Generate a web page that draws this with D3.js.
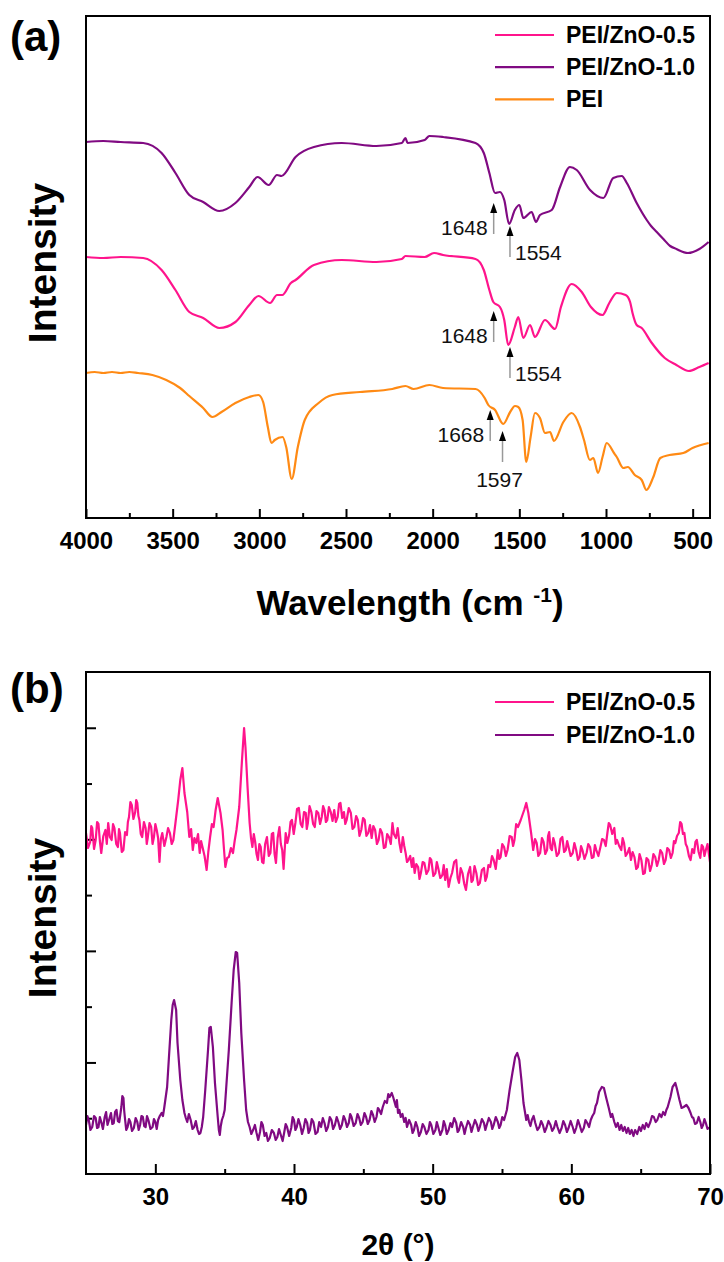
<!DOCTYPE html>
<html lang="en">
<head>
  <title>PEI / PEI-ZnO : FTIR and XRD</title>
  <meta charset="utf-8">
  <script src="https://d3js.org/d3.v7.min.js"></script>
  <style>
    body { margin: 0; background: #fff; }
    text { font-family: "Liberation Sans", Arial, sans-serif; }
    .frame { fill: none; stroke: #000; stroke-width: 2; }
    .curve { fill: none; stroke-width: 2.2; stroke-linejoin: round; }
  </style>
</head>
<body>
<svg width="724" height="1262"></svg>
<script>
// ---- (a) FTIR : wavenumber (cm-1) / intensity (a.u.) ----
var pei10Wn  = [4000,3900,3800,3670,3564,3484,3404,3324,3231,3138,3058,3010,2946,2898,2872,2791,2685,2525,2325,2178,2157,2145,2046,2019,1940,1753,1705,1673,1640,1612,1587,1559,1526,1500,1477,1429,1404,1381,1313,1265,1208,1169,1092,1015,958,909,880,823,765,740,707,669,630,594,527,461,408];
var pei10Int = [376,377,376,375,365,345,323,316,307,315,331,341,333,343,342,361,371,375,372,375,380,375,378,382,381,375,365,345,325,326,318,294,308,313,300,306,296,303,308,331,351,348,328,320,340,342,335,315,298,292,286,279,272,269,265,269,276];

var pei05Wn  = [4000,3900,3800,3670,3564,3484,3404,3324,3231,3138,3058,3005,2938,2898,2868,2818,2791,2685,2525,2325,2178,2157,2046,1992,1940,1753,1705,1673,1650,1612,1587,1564,1526,1506,1477,1438,1410,1352,1294,1260,1198,1140,1087,1020,981,938,887,861,847,823,794,740,661,594,522,461,408];
var pei05Int = [261,260,261,260,248,228,206,200,190,196,213,222,215,223,223,235,238,253,258,256,259,262,261,265,263,259,248,228,216,211,198,173,191,201,180,193,181,198,189,211,234,226,211,203,215,225,223,216,205,193,190,176,160,153,147,151,155];

var peiWn  = [4000,3950,3900,3850,3800,3750,3700,3617,3537,3457,3404,3324,3271,3218,3138,3058,3005,2978,2951,2930,2911,2866,2845,2813,2778,2738,2658,2578,2419,2233,2157,2110,2019,1940,1753,1700,1679,1640,1593,1553,1525,1506,1481,1460,1435,1410,1381,1352,1323,1300,1246,1198,1150,1127,1093,1073,1046,1020,996,954,938,900,874,834,794,767,727,687,634,554,501,408];
var peiInt = [145,146,145,146,145,146,145,143,138,130,122,110,101,106,115,121,123,116,91,75,78,81,71,39,71,98,115,123,126,129,132,129,133,130,129,120,113,108,94,106,112,111,98,56,81,105,100,85,86,77,96,105,91,78,58,60,45,61,75,65,61,50,51,43,38,28,41,60,63,65,70,75];

var ftirTicks = [4000,3500,3000,2500,2000,1500,1000,500];
var ftirMinor = [3750,3250,2750,2250,1750,1250,750];

// marked bands: wavenumber, intensity at the arrow tip, label side
var markWn   = [1648,1554,1648,1554,1668,1597];
var markTip  = [315,292,207,171,108,87];
var markSide = ["left","right","left","right","left","below"];

// ---- (b) XRD : [2theta (deg), intensity (a.u.)] ----
var xrd05 = [[25.0,341],[25.15,326],[25.3,332],[25.38,348],[25.45,346],[25.58,325],[25.7,334],[25.8,352],[25.9,350],[26.0,333],[26.1,321],[26.25,338],[26.4,344],[26.5,330],[26.6,351],[26.72,337],[26.85,334],[26.95,350],[27.05,346],[27.18,330],[27.3,327],[27.38,345],[27.45,341],[27.58,322],[27.7,324],[27.82,342],[27.95,339],[28.02,352],[28.1,357],[28.2,372],[28.3,369],[28.42,355],[28.55,362],[28.62,374],[28.7,371],[28.78,358],[28.85,354],[28.95,340],[29.05,337],[29.18,352],[29.3,346],[29.38,330],[29.45,336],[29.58,351],[29.7,347],[29.8,330],[29.9,337],[30.0,350],[30.1,344],[30.2,336],[30.3,312],[30.4,335],[30.5,341],[30.65,328],[30.8,337],[30.92,346],[31.05,341],[31.18,330],[31.3,334],[31.45,351],[31.65,374],[31.8,394],[31.95,406],[32.1,381],[32.3,362],[32.45,337],[32.58,345],[32.7,324],[32.82,336],[32.95,331],[33.08,340],[33.2,321],[33.3,333],[33.4,327],[33.55,318],[33.7,304],[33.82,322],[33.95,337],[34.08,350],[34.2,347],[34.35,364],[34.5,376],[34.7,361],[34.85,344],[34.95,325],[35.05,307],[35.18,316],[35.3,317],[35.45,326],[35.6,321],[35.72,333],[35.85,344],[36.05,367],[36.25,414],[36.4,446],[36.5,427],[36.65,387],[36.8,351],[36.9,336],[37.0,327],[37.1,340],[37.2,332],[37.3,320],[37.4,314],[37.5,330],[37.6,327],[37.7,312],[37.8,311],[37.92,330],[38.05,337],[38.18,318],[38.3,321],[38.4,340],[38.5,341],[38.6,320],[38.7,311],[38.82,336],[38.95,347],[39.05,330],[39.15,324],[39.25,305],[39.4,341],[39.52,331],[39.65,339],[39.75,352],[39.85,354],[39.98,340],[40.1,351],[40.22,365],[40.35,366],[40.48,350],[40.6,347],[40.72,362],[40.85,361],[40.92,345],[41.0,351],[41.12,368],[41.25,362],[41.38,350],[41.5,347],[41.62,363],[41.75,361],[41.88,350],[42.0,357],[42.1,368],[42.2,364],[42.3,352],[42.4,354],[42.52,367],[42.65,362],[42.78,353],[42.9,364],[43.02,352],[43.15,357],[43.25,370],[43.35,371],[43.48,356],[43.6,362],[43.7,350],[43.8,354],[43.95,366],[44.1,361],[44.22,345],[44.35,347],[44.48,358],[44.6,354],[44.72,338],[44.85,344],[44.98,356],[45.1,354],[45.22,338],[45.35,341],[45.48,349],[45.6,336],[45.72,348],[45.85,344],[45.98,330],[46.1,334],[46.22,345],[46.35,341],[46.48,326],[46.6,327],[46.72,340],[46.85,337],[46.98,330],[47.1,351],[47.2,340],[47.35,336],[47.48,346],[47.6,331],[47.72,322],[47.85,337],[47.95,328],[48.05,321],[48.15,312],[48.25,314],[48.38,318],[48.5,307],[48.6,316],[48.7,301],[48.82,310],[48.95,307],[49.05,295],[49.15,301],[49.28,312],[49.4,311],[49.55,300],[49.7,304],[49.8,316],[49.9,314],[50.05,298],[50.2,301],[50.3,312],[50.4,306],[50.55,296],[50.7,299],[50.8,309],[50.9,294],[51.02,305],[51.15,287],[51.28,296],[51.4,301],[51.55,312],[51.7,314],[51.8,296],[51.9,291],[52.02,306],[52.15,301],[52.28,290],[52.4,284],[52.55,300],[52.7,307],[52.8,292],[52.9,294],[53.02,308],[53.15,301],[53.28,289],[53.4,291],[53.55,304],[53.7,306],[53.8,293],[53.9,297],[54.02,309],[54.15,307],[54.28,318],[54.4,314],[54.55,305],[54.7,324],[54.8,315],[54.9,317],[55.02,330],[55.15,327],[55.28,318],[55.4,324],[55.55,338],[55.7,337],[55.8,328],[55.9,334],[56.02,350],[56.15,347],[56.35,354],[56.6,364],[56.75,371],[56.9,361],[57.1,341],[57.25,324],[57.38,335],[57.5,331],[57.62,318],[57.75,321],[57.88,336],[58.0,332],[58.12,320],[58.25,324],[58.32,338],[58.4,342],[58.5,326],[58.6,324],[58.7,336],[58.8,331],[58.95,318],[59.1,321],[59.22,335],[59.35,337],[59.48,322],[59.6,324],[59.7,333],[59.8,327],[59.95,318],[60.1,321],[60.22,331],[60.35,324],[60.48,314],[60.6,317],[60.7,328],[60.8,324],[60.95,315],[61.1,321],[61.22,330],[61.35,327],[61.48,316],[61.6,317],[61.7,329],[61.8,324],[61.95,318],[62.1,327],[62.22,335],[62.35,334],[62.48,328],[62.6,341],[62.7,351],[62.8,349],[62.95,340],[63.1,346],[63.2,330],[63.3,334],[63.45,328],[63.6,324],[63.7,336],[63.8,331],[63.92,318],[64.05,321],[64.18,326],[64.3,314],[64.42,322],[64.55,317],[64.68,305],[64.8,307],[64.92,320],[65.05,314],[65.18,300],[65.3,301],[65.42,316],[65.55,314],[65.68,303],[65.8,309],[65.92,320],[66.05,317],[66.18,308],[66.3,314],[66.42,324],[66.55,321],[66.68,310],[66.8,314],[66.92,326],[67.05,324],[67.18,316],[67.3,321],[67.4,333],[67.5,331],[67.62,338],[67.75,341],[67.85,352],[67.95,350],[68.05,340],[68.15,341],[68.25,330],[68.35,327],[68.48,318],[68.6,314],[68.72,325],[68.85,321],[68.95,332],[69.05,334],[69.18,322],[69.3,316],[69.4,329],[69.5,327],[69.6,318],[69.7,324],[69.82,330],[70.0,312]];

var xrd10 = [[25.0,49],[25.1,58],[25.2,54],[25.32,44],[25.45,47],[25.58,58],[25.7,56],[25.8,46],[25.9,47],[26.0,57],[26.1,52],[26.22,45],[26.35,57],[26.45,62],[26.55,49],[26.68,55],[26.8,61],[26.9,50],[27.0,51],[27.1,62],[27.2,64],[27.3,53],[27.4,52],[27.48,60],[27.55,67],[27.62,78],[27.7,76],[27.75,64],[27.8,57],[27.9,44],[28.0,47],[28.1,55],[28.2,52],[28.32,43],[28.45,46],[28.58,56],[28.7,52],[28.8,44],[28.9,49],[29.0,58],[29.1,57],[29.2,48],[29.3,47],[29.4,58],[29.5,54],[29.65,45],[29.8,47],[29.9,55],[30.0,52],[30.1,45],[30.2,54],[30.32,58],[30.45,61],[30.55,58],[30.65,67],[30.85,87],[31.0,121],[31.15,154],[31.25,169],[31.35,174],[31.5,164],[31.6,131],[31.8,94],[31.95,74],[32.1,61],[32.2,56],[32.3,52],[32.42,60],[32.55,54],[32.68,45],[32.8,47],[32.92,53],[33.05,44],[33.15,40],[33.25,41],[33.35,47],[33.45,57],[33.6,84],[33.8,124],[33.9,146],[34.0,147],[34.15,127],[34.3,91],[34.5,57],[34.58,44],[34.65,39],[34.72,48],[34.8,54],[34.9,58],[35.0,64],[35.1,84],[35.3,124],[35.5,171],[35.65,204],[35.8,222],[35.9,221],[36.05,191],[36.2,141],[36.4,94],[36.55,64],[36.68,52],[36.8,47],[36.92,40],[37.05,44],[37.18,49],[37.3,41],[37.42,34],[37.55,42],[37.65,52],[37.75,49],[37.88,38],[38.0,41],[38.12,33],[38.25,36],[38.4,44],[38.55,41],[38.68,34],[38.8,37],[38.92,45],[39.05,39],[39.18,33],[39.3,42],[39.4,50],[39.5,47],[39.65,38],[39.8,46],[39.9,57],[40.0,54],[40.1,44],[40.2,47],[40.32,55],[40.45,49],[40.58,40],[40.7,46],[40.82,55],[40.95,51],[41.05,41],[41.15,44],[41.28,55],[41.4,52],[41.55,40],[41.7,42],[41.82,52],[41.95,47],[42.08,56],[42.2,51],[42.32,43],[42.45,47],[42.58,57],[42.7,54],[42.82,45],[42.95,49],[43.08,57],[43.2,52],[43.32,45],[43.45,49],[43.58,58],[43.7,54],[43.82,47],[43.95,51],[44.05,60],[44.15,57],[44.3,48],[44.45,51],[44.58,60],[44.7,56],[44.82,49],[44.95,52],[45.08,61],[45.2,57],[45.32,50],[45.45,54],[45.58,63],[45.7,59],[45.82,52],[45.95,57],[46.05,66],[46.15,64],[46.28,60],[46.4,67],[46.55,73],[46.7,71],[46.8,80],[46.9,77],[47.05,81],[47.15,77],[47.25,72],[47.35,67],[47.42,74],[47.5,61],[47.6,64],[47.7,57],[47.82,60],[47.95,52],[48.05,56],[48.15,47],[48.3,54],[48.45,49],[48.55,41],[48.65,44],[48.78,52],[48.9,47],[49.02,38],[49.15,42],[49.28,50],[49.4,47],[49.55,40],[49.7,44],[49.8,52],[49.9,49],[50.05,40],[50.2,44],[50.3,52],[50.4,47],[50.55,39],[50.7,44],[50.8,53],[50.9,49],[51.02,40],[51.15,44],[51.28,51],[51.4,47],[51.55,56],[51.7,51],[51.8,42],[51.9,44],[52.05,52],[52.2,47],[52.3,40],[52.4,46],[52.55,53],[52.7,49],[52.8,42],[52.9,47],[53.05,54],[53.2,49],[53.3,43],[53.4,47],[53.55,55],[53.7,51],[53.8,44],[53.9,49],[54.05,56],[54.2,52],[54.3,45],[54.4,49],[54.55,57],[54.7,52],[54.8,46],[54.9,49],[55.02,57],[55.15,54],[55.35,64],[55.55,84],[55.75,101],[55.95,117],[56.1,121],[56.25,114],[56.4,94],[56.55,71],[56.75,54],[56.85,59],[56.95,52],[57.05,48],[57.15,54],[57.28,58],[57.4,51],[57.55,44],[57.7,47],[57.82,53],[57.95,49],[58.08,42],[58.2,46],[58.35,53],[58.5,49],[58.62,43],[58.75,46],[58.88,53],[59.0,47],[59.15,41],[59.3,46],[59.42,53],[59.55,49],[59.68,42],[59.8,46],[59.95,53],[60.1,47],[60.22,41],[60.35,46],[60.48,54],[60.6,49],[60.75,42],[60.9,46],[61.02,54],[61.15,51],[61.28,47],[61.4,54],[61.52,58],[61.65,61],[61.75,68],[61.85,71],[62.0,82],[62.2,87],[62.35,86],[62.5,77],[62.7,66],[62.85,57],[62.95,60],[63.1,52],[63.22,47],[63.35,51],[63.48,44],[63.6,49],[63.72,43],[63.85,47],[63.98,41],[64.1,46],[64.22,40],[64.35,44],[64.48,38],[64.6,44],[64.75,40],[64.9,47],[65.02,43],[65.15,49],[65.28,45],[65.4,51],[65.55,47],[65.7,52],[65.82,58],[65.95,57],[66.08,52],[66.2,54],[66.35,60],[66.5,57],[66.62,62],[66.75,59],[66.85,64],[66.95,67],[67.15,77],[67.3,87],[67.5,91],[67.6,86],[67.8,74],[67.95,66],[68.1,67],[68.3,69],[68.45,66],[68.6,61],[68.7,57],[68.8,56],[68.92,50],[69.05,51],[69.18,57],[69.3,52],[69.4,46],[69.5,49],[69.6,55],[69.7,51],[69.82,45],[70.0,47]];

var xrdTicks = [30,40,50,60,70];
var xrdMinor = [35,45,55,65];

var ftirNames  = ["PEI/ZnO-0.5","PEI/ZnO-1.0","PEI"];
var ftirColors = ["#ff148c","#800a82","#ff8a14"];
var xrdNames   = ["PEI/ZnO-0.5","PEI/ZnO-1.0"];
var xrdColors  = ["#ff148c","#800a82"];

var svg = d3.select("svg"),
    W = 624, H = 502;

function styleAxis(sel) {
  sel.select(".domain").remove();
  sel.selectAll(".tick line").attr("stroke", "#000").attr("stroke-width", 2);
  sel.selectAll(".tick text")
     .attr("fill", "#000")
     .style("font-family", "'Liberation Sans', Arial, sans-serif")
     .style("font-size", "24px")
     .style("font-weight", "bold");
}

function legend(g, names, colors, y0, dy) {
  names.forEach(function(n, i) {
    var y = y0 + i * dy;
    g.append("line").attr("x1", 409).attr("x2", 468).attr("y1", y).attr("y2", y)
     .attr("stroke", colors[i]).attr("stroke-width", 2.2);
    g.append("text").attr("x", 480).attr("y", y + 8)
     .style("font-size", "23px").style("font-weight", "bold").text(n);
  });
}

// ================= panel (a) =================
var gA = svg.append("g").attr("transform", "translate(86,16)");
var xA = d3.scaleLinear().domain([4000, 400]).range([0, W]),
    yA = d3.scaleLinear().domain([0, 502]).range([H, 0]);

gA.append("g").attr("transform", "translate(0," + H + ")")
  .call(d3.axisBottom(xA).tickValues(ftirTicks).tickSizeInner(-9).tickSizeOuter(0)
        .tickPadding(14).tickFormat(d3.format("d")))
  .call(styleAxis);
gA.append("g").attr("transform", "translate(0," + H + ")")
  .call(d3.axisBottom(xA).tickValues(ftirMinor).tickSizeInner(-5).tickSizeOuter(0).tickFormat(""))
  .call(styleAxis);

var lineA = d3.line().curve(d3.curveMonotoneX)
  .x(function(d) { return xA(d[0]); })
  .y(function(d) { return yA(d[1]); });

[[pei05Wn, pei05Int, 0], [pei10Wn, pei10Int, 1], [peiWn, peiInt, 2]].forEach(function(s) {
  gA.append("path").datum(d3.zip(s[0], s[1])).attr("class", "curve")
    .attr("stroke", ftirColors[s[2]]).attr("d", lineA);
});

// band markers
markWn.forEach(function(wn, i) {
  var x = xA(wn), tip = yA(markTip[i]), tail = tip + 31;
  gA.append("line").attr("x1", x).attr("x2", x).attr("y1", tip + 8).attr("y2", tail)
    .attr("stroke", "#999").attr("stroke-width", 1.5);
  gA.append("path").attr("d", "M" + x + "," + tip + "L" + (x - 3.5) + "," + (tip + 10) + "L" + (x + 3.5) + "," + (tip + 10) + "Z")
    .attr("fill", "#000");
  var t = gA.append("text").style("font-size", "21px").attr("fill", "#111").text(wn);
  if (markSide[i] === "left") t.attr("x", x - 6).attr("y", tail + 1).attr("text-anchor", "end");
  else if (markSide[i] === "right") t.attr("x", x + 5).attr("y", tail + 3).attr("text-anchor", "start");
  else t.attr("x", x - 3).attr("y", tail + 25).attr("text-anchor", "middle");
});

gA.append("rect").attr("class", "frame").attr("width", W).attr("height", H);
legend(gA, ftirNames, ftirColors, 19, 32.2);

svg.append("text").attr("x", 10).attr("y", 51)
  .style("font-size", "42px").style("font-weight", "bold").text("(a)");
svg.append("text").attr("transform", "translate(56,263) rotate(-90)").attr("text-anchor", "middle")
  .style("font-size", "39px").style("font-weight", "bold").text("Intensity");
var tA = svg.append("text").attr("x", 410).attr("y", 615).attr("text-anchor", "middle")
  .style("font-size", "35px").style("font-weight", "bold");
tA.append("tspan").text("Wavelength (cm ");
tA.append("tspan").attr("dy", -13).style("font-size", "21px").text("-1");
tA.append("tspan").attr("dy", 13).text(")");

// ================= panel (b) =================
var gB = svg.append("g").attr("transform", "translate(86,672)");
var xB = d3.scaleLinear().domain([25, 70]).range([0, W]),
    yB = d3.scaleLinear().domain([0, 502]).range([H, 0]);

gB.append("g").attr("transform", "translate(0," + H + ")")
  .call(d3.axisBottom(xB).tickValues(xrdTicks).tickSizeInner(-10).tickSizeOuter(0).tickPadding(14))
  .call(styleAxis);
gB.append("g").attr("transform", "translate(0," + H + ")")
  .call(d3.axisBottom(xB).tickValues(xrdMinor).tickSizeInner(-5).tickSizeOuter(0).tickFormat(""))
  .call(styleAxis);
gB.append("g")
  .call(d3.axisLeft(yB).tickValues([2, 4, 6, 8].map(function(k) { return k * 55.78; }))
        .tickSizeInner(-10).tickSizeOuter(0).tickFormat(""))
  .call(styleAxis);
gB.append("g")
  .call(d3.axisLeft(yB).tickValues([1, 3, 5, 7].map(function(k) { return k * 55.78; }))
        .tickSizeInner(-6).tickSizeOuter(0).tickFormat(""))
  .call(styleAxis);

var lineB = d3.line()
  .x(function(d) { return xB(d[0]); })
  .y(function(d) { return yB(d[1]); });

gB.append("path").datum(xrd05).attr("class", "curve")
  .attr("stroke", xrdColors[0]).attr("d", lineB);
gB.append("path").datum(xrd10).attr("class", "curve")
  .attr("stroke", xrdColors[1]).attr("d", lineB);

gB.append("rect").attr("class", "frame").attr("width", W).attr("height", H);
legend(gB, xrdNames, xrdColors, 30, 33);

svg.append("text").attr("x", 10).attr("y", 703)
  .style("font-size", "42px").style("font-weight", "bold").text("(b)");
svg.append("text").attr("transform", "translate(56,918) rotate(-90)").attr("text-anchor", "middle")
  .style("font-size", "39px").style("font-weight", "bold").text("Intensity");
svg.append("text").attr("x", 398).attr("y", 1255).attr("text-anchor", "middle")
  .style("font-size", "30px").style("font-weight", "bold").text("2θ (°)");
</script>
</body>
</html>
